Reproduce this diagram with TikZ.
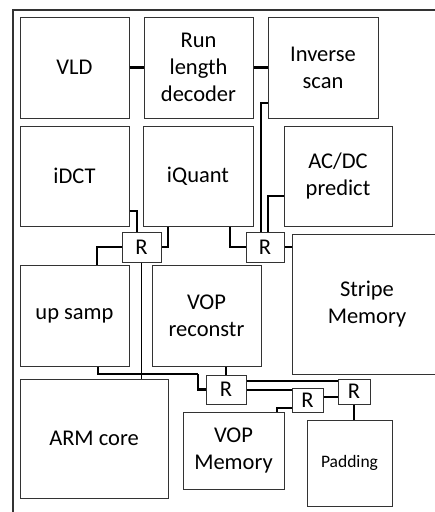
\documentclass[tikz,border=0pt]{standalone}
\usepackage{fontspec}
\setmainfont{Carlito}
\begin{document}
\begin{tikzpicture}[x=1pt,y=-1pt,
  blk/.style={draw=black!80, line width=1pt, inner sep=0pt, align=center,
    font=\fontsize{22.5}{27}\selectfont},
  conn/.style={line width=2.4pt, black},
  connm/.style={line width=1.6pt, black}]
\useasboundingbox (0,0) rectangle (435,512);
% outer frame
\draw[black!80, line width=1.4pt] (13,512) -- (13,10) -- (440,10);
% boxes
\node[blk, minimum width=109pt, minimum height=101pt] (VLD) at (74.5,67.5) {VLD};
\node[blk, minimum width=109pt, minimum height=101pt] (RLD) at (198.5,67.5) {Run\\length\\decoder};
\node[blk, minimum width=110pt, minimum height=101pt] (InvScan) at (323,67.5) {Inverse\\scan};
\node[blk, minimum width=109pt, minimum height=100pt] (iDCT) at (74.5,176) {iDCT};
\node[blk, minimum width=110pt, minimum height=100pt] (iQuant) at (198,176) {iQuant};
\node[blk, minimum width=108pt, minimum height=100pt] (ACDC) at (338,176) {AC/DC\\predict};
\node[blk, minimum width=39pt, minimum height=30pt] (R1) at (141.5,247) {R};
\node[blk, minimum width=38pt, minimum height=30pt] (R2) at (265,247) {R};
\node[blk, minimum width=150pt, minimum height=140pt] (Stripe) at (367,304) {Stripe\\Memory};
\node[blk, minimum width=109pt, minimum height=101pt] (upsamp) at (74.5,315.5) {up samp};
\node[blk, minimum width=109pt, minimum height=101pt] (VOPrec) at (206.5,315.5) {VOP\\reconstr};
\node[blk, minimum width=148pt, minimum height=119pt] (ARM) at (94,438.5) {ARM core};
\node[blk, minimum width=40pt, minimum height=29pt] (R3) at (226,389.5) {R};
\node[blk, minimum width=31pt, minimum height=24pt] (R4) at (307.5,400) {R};
\node[blk, minimum width=32pt, minimum height=25pt] (R5) at (354,391.5) {R};
\node[blk, minimum width=101pt, minimum height=77pt] (VOPmem) at (233.5,450.5) {VOP\\Memory};
\node[blk, minimum width=85pt, minimum height=86pt, font=\fontsize{17.5}{21}\selectfont] (Padding) at (349.5,463) {Padding};
% connectors
\draw[conn] (VLD.east) -- (RLD.west);
\draw[conn] (RLD.east) -- (InvScan.west);
\draw[conn] (InvScan.west |- 0,103) -| ([xshift=-4pt]R2.north);
\draw[connm] (ACDC.west |- 0,196) -| ([xshift=3pt]R2.north);
\draw[conn] (R2.east) -- (R2.east -| Stripe.west);
\draw[conn] (iQuant.south -| 230,0) |- (R2.west);
\draw[conn] (iQuant.south -| 168,0) |- (R1.east);
\draw[conn] (iDCT.east |- 0,211) -| ([xshift=-4.5pt]R1.north);
\draw[conn] (R1.west) -| (upsamp.north -| 97,0);
\draw[connm] (R1.south) -- (R1.south |- ARM.north);
\draw[connm] (upsamp.south -| 98,0) |- (198,374);
\draw[conn] (198,374) |- (R3.west);
\draw[conn] (R3.north |- VOPrec.south) -- (R3.north);
\draw[connm] (R3.east |- 0,381) -- (R5.west |- 0,381);
\draw[connm] (R3.east |- 0,390) -- (R4.west |- 0,390);
\draw[connm] (R4.east |- 0,397) -- (R5.west |- 0,397);
\draw[connm] (R4.west |- 0,408) -| (VOPmem.north -| 277,0);
\draw[connm] (R5.south) -- (R5.south |- Padding.north);
\end{tikzpicture}
\end{document}
